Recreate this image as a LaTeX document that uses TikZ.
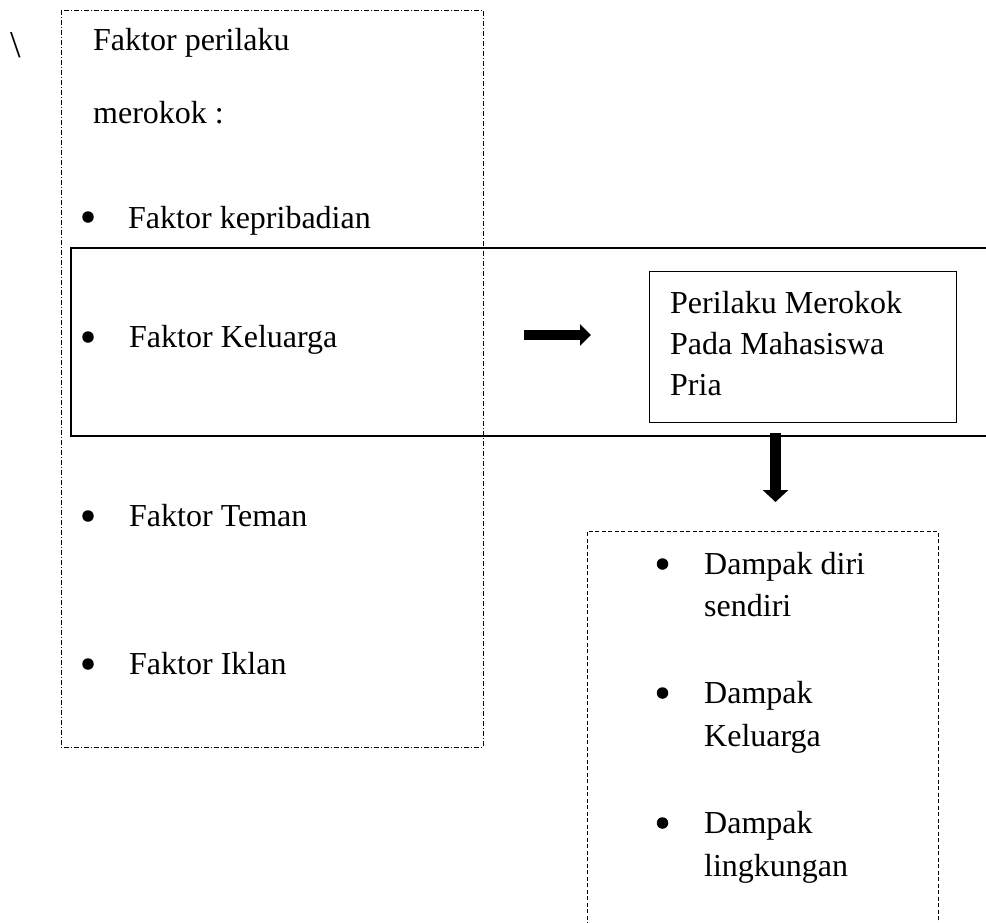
\documentclass[tikz,border=0pt]{standalone}
\usepackage{fontspec}
\setmainfont{Liberation Serif}
\usetikzlibrary{arrows.meta}
\begin{document}
\begin{tikzpicture}[x=1pt,y=-1pt,
  txt/.style={inner sep=0pt, anchor=base west, font=\fontsize{32}{40}\selectfont},
  dot/.style={circle, fill=black, inner sep=0pt, minimum size=11.5pt},
  dashdotbox/.style={line width=0.9pt, dash pattern=on 5pt off 2pt on 1pt off 2pt},
  dashbox/.style={line width=0.9pt, dash pattern=on 4pt off 2.5pt},
  band/.style={line width=1.6pt}
]
\useasboundingbox (0,0) rectangle (986,922);
% backslash
\node[inner sep=0pt, anchor=base west, font=\fontsize{38}{44}\selectfont] (bs) at (10,57) {\textbackslash};
% left dash-dot box
\draw[dashdotbox] (61,10) rectangle (483,747);
% band
\draw[band] (990,248) -- (71,248) -- (71,436) -- (990,436);
% left texts
\node[txt] (t1) at (93,50) {Faktor perilaku};
\node[txt] (t2) at (93,123) {merokok :};
\node[dot] (b1) at (88,217) {};
\node[txt] (f1) at (128,228) {Faktor kepribadian};
\node[dot] (b2) at (88,337) {};
\node[txt] (f2) at (129,347) {Faktor Keluarga};
\node[dot] (b3) at (88,516) {};
\node[txt] (f3) at (129,526) {Faktor Teman};
\node[dot] (b4) at (88,664) {};
\node[txt] (f4) at (129,674) {Faktor Iklan};
% perilaku box
\node[draw, line width=0.9pt, minimum width=307pt, minimum height=151pt, inner sep=0pt] (pm) at (802.5,346.5) {};
\node[txt] (p1) at (670,313) {Perilaku Merokok};
\node[txt] (p2) at (670,354) {Pada Mahasiswa};
\node[txt] (p3) at (670,395) {Pria};
% arrows
\coordinate (h1) at (524,335);
\coordinate (h2) at (591,335);
\draw[line width=10pt, -{Triangle[width=21pt,length=11pt]}] (h1) -- (h2);
\coordinate (d1) at (775.5,433);
\coordinate (d2) at (775.5,502);
\draw[line width=11pt, -{Triangle[width=25pt,length=12pt]}] (d1) -- (d2);
% dampak box
\draw[dashbox] (587,926) -- (587,531) -- (938,531) -- (938,926);
\node[dot] (c1) at (662.5,564) {};
\node[txt] (e1) at (704,574) {Dampak diri};
\node[txt] (e1b) at (704,616) {sendiri};
\node[dot] (c2) at (662.5,693) {};
\node[txt] (e2) at (704,703) {Dampak};
\node[txt] (e2b) at (704,746) {Keluarga};
\node[dot] (c3) at (662.5,823) {};
\node[txt] (e3) at (704,833) {Dampak};
\node[txt] (e3b) at (704,876) {lingkungan};
\end{tikzpicture}
\end{document}
